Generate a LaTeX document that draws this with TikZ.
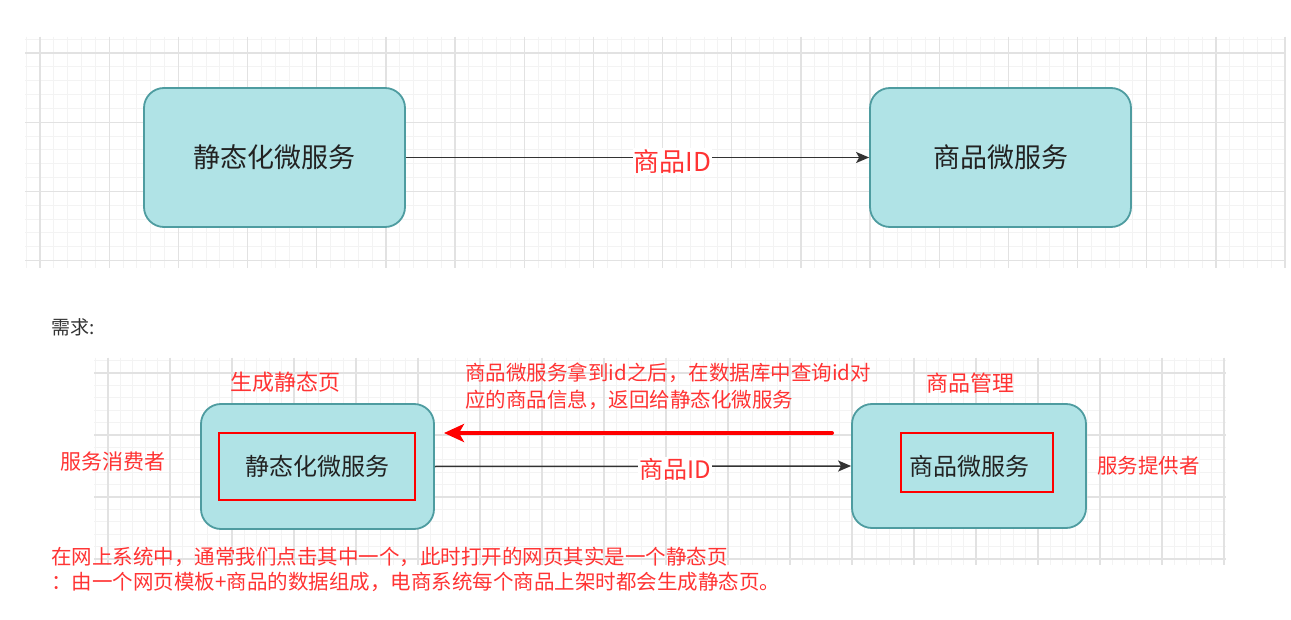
\documentclass[tikz,border=0pt]{standalone}
\usepackage{fontspec}
\setmainfont{Noto Sans CJK SC}
\usetikzlibrary{arrows.meta}
\definecolor{boxfill}{HTML}{B0E3E6}
\definecolor{boxline}{HTML}{4E9CA0}
\definecolor{lblred}{HTML}{FF3333}
\definecolor{minorc}{HTML}{F3F3F3}
\definecolor{majorc}{HTML}{E2E2E2}
\definecolor{conncol}{HTML}{333333}
\definecolor{txtdark}{HTML}{222222}
\tikzset{
  minorline/.style={draw=minorc, line width=0.9pt},
  majorline/.style={draw=majorc, line width=1.3pt},
  svc/.style={draw=boxline, fill=boxfill, line width=1.8pt, rounded corners=20pt, text=txtdark, inner sep=0pt},
  redframe/.style={draw=red, line width=2pt, inner sep=0pt},
  conn/.style={draw=conncol, line width=1.5pt, -{Stealth[length=13pt,width=11pt,inset=3pt]}},
  redconn/.style={draw=red, line width=4pt, line cap=round, -{Stealth[length=20pt,width=18pt,inset=5pt]}},
  edgelabel/.style={text=lblred, fill=white, inner sep=1pt},
  redtext/.style={text=lblred, inner sep=0pt},
}
\begin{document}
\begin{tikzpicture}[x=1pt,y=-1pt]
\useasboundingbox[fill=white] (0,0) rectangle (1291,620);

% ---------- top grid ----------
\begin{scope}
  \clip (25,37) rectangle (1286,268);
  \foreach \k in {-1,...,91} {
    \pgfmathsetmacro\xx{40+\k*13.834}
    \draw[minorline] (\xx,37) -- (\xx,268);
  }
  \foreach \k in {-2,...,17} {
    \pgfmathsetmacro\yy{53+\k*13.834}
    \draw[minorline] (25,\yy) -- (1286,\yy);
  }
  \foreach \k in {0,...,18} {
    \pgfmathsetmacro\xx{40+\k*69.17}
    \draw[majorline] (\xx,37) -- (\xx,268);
  }
  \foreach \k in {0,...,3} {
    \pgfmathsetmacro\yy{53+\k*69.17}
    \draw[majorline] (25,\yy) -- (1286,\yy);
  }
\end{scope}

% ---------- bottom grid ----------
\begin{scope}
  \clip (94,358) rectangle (1226,565);
  \foreach \k in {-2,...,91} {
    \pgfmathsetmacro\xx{108+\k*12.4}
    \draw[minorline] (\xx,358) -- (\xx,565);
  }
  \foreach \k in {-2,...,16} {
    \pgfmathsetmacro\yy{373+\k*12.4}
    \draw[minorline] (94,\yy) -- (1226,\yy);
  }
  \foreach \k in {0,...,18} {
    \pgfmathsetmacro\xx{108+\k*62}
    \draw[majorline] (\xx,358) -- (\xx,565);
  }
  \foreach \k in {0,...,3} {
    \pgfmathsetmacro\yy{373+\k*62}
    \draw[majorline] (94,\yy) -- (1226,\yy);
  }
\end{scope}

% ---------- top diagram ----------
\node[svc, minimum width=261pt, minimum height=139pt, font=\fontsize{27}{27}\selectfont] (tl) at (274.5,157.5) {静态化微服务};
\node[svc, minimum width=261pt, minimum height=139pt, font=\fontsize{27}{27}\selectfont] (tr) at (1000.5,157.5) {商品微服务};
\draw[conn] (tl.east) -- (tr.west)
  node[edgelabel, pos=0.576, yshift=-4pt, font=\fontsize{26}{26}\selectfont] (tlab) {商品ID};

% ---------- caption ----------
\node[anchor=west, inner sep=0pt, text=conncol, font=\fontsize{19}{19}\selectfont] (req) at (51,327) {需求:};

% ---------- bottom diagram ----------
\node[svc, minimum width=233pt, minimum height=125pt, font=\fontsize{24}{24}\selectfont] (bl) at (317.5,466.5) {静态化微服务};
\node[svc, minimum width=234pt, minimum height=124pt, font=\fontsize{24}{24}\selectfont] (br) at (969,466) {商品微服务};
\node[redframe, minimum width=196pt, minimum height=67pt] (blf) at (317,466.5) {};
\node[redframe, minimum width=152pt, minimum height=59pt] (brf) at (977,462.5) {};

\draw[conn] (bl.east) -- (br.west)
  node[edgelabel, pos=0.577, yshift=-3pt, font=\fontsize{24}{24}\selectfont] (blab) {商品ID};

\coordinate (rstart) at (832,433);
\coordinate (rend) at (444,433);
\draw[redconn] (rstart) -- (rend);

\node[redtext, font=\fontsize{22}{22}\selectfont] (gen) at (285.5,382) {生成静态页};
\node[redtext, font=\fontsize{21}{21}\selectfont] (cons) at (113,462) {服务消费者};
\node[redtext, font=\fontsize{22}{22}\selectfont] (mgmt) at (970.5,383) {商品管理};
\node[redtext, font=\fontsize{20.5}{20.5}\selectfont] (prov) at (1148.5,466) {服务提供者};

\node[redtext, anchor=west, align=left, font=\fontsize{20.5}{27}\selectfont] (desc) at (465,386.5)
  {商品微服务拿到id之后，在数据库中查询id对\\应的商品信息，返回给静态化微服务};

\node[redtext, anchor=west, align=left, font=\fontsize{20.5}{25}\selectfont] (note) at (51,569.5)
  {在网上系统中，通常我们点击其中一个，此时打开的网页其实是一个静态页\\：由一个网页模板+商品的数据组成，电商系统每个商品上架时都会生成静态页。};
\end{tikzpicture}
\end{document}
